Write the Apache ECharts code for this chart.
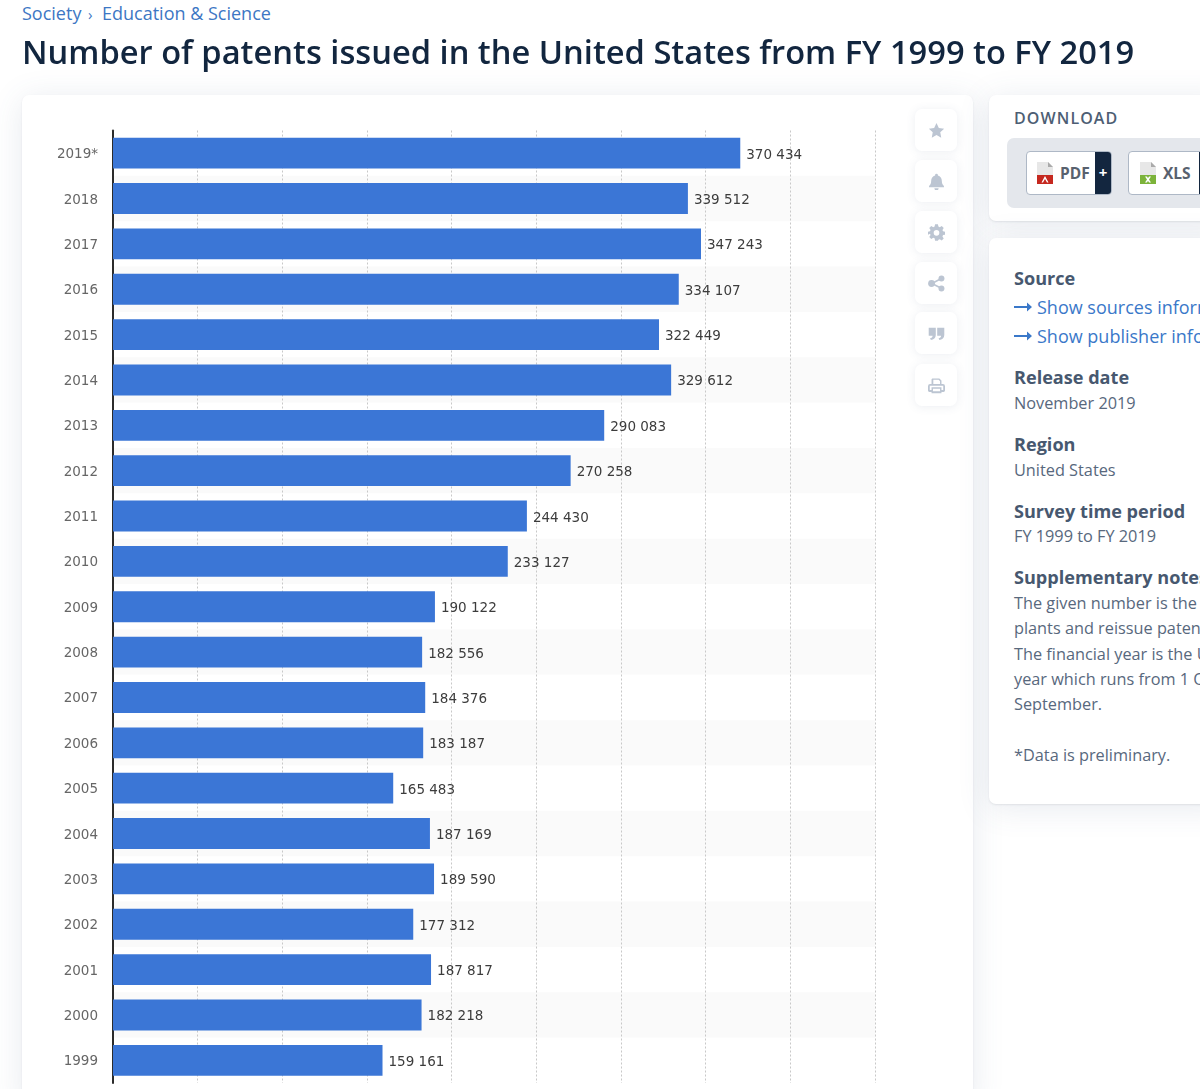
<!DOCTYPE html>
<html><head><meta charset="utf-8">
<script src="https://cdn.jsdelivr.net/npm/echarts@6/dist/echarts.min.js"></script>
<style>
html,body{margin:0;padding:0;width:1200px;height:1089px;overflow:hidden;font-family:"Open Sans",sans-serif;background:#fff;position:relative}
.abs{position:absolute;white-space:nowrap}
.card{position:absolute;background:#fff;border-radius:7px;box-shadow:0 1px 2px rgba(60,70,90,.10),0 4px 32px rgba(70,90,130,.13)}
.btn{position:absolute;left:915px;width:42px;height:42px;background:#fff;border-radius:7px;box-shadow:0 1px 10px rgba(70,90,130,.10);display:flex;align-items:center;justify-content:center}
.btn svg{width:17px;height:17px;fill:#bcc5d2}
.h{font-weight:700;font-size:18.1px;color:#47586f;left:1014px}
.t{font-size:16.3px;color:#58687d;left:1014px}
.l{font-size:18px;color:#3a78c9;left:1037px}
.crumb{font-size:18px;color:#3d77c4;top:1px}
#c{position:absolute;left:0;top:0;width:1200px;height:1089px}
.dl{position:absolute;top:151px;height:44px;background:#fff;border:1px solid #aeb8c6;border-radius:4px;box-sizing:border-box;overflow:hidden}
.dlt{position:absolute;top:10px;font-weight:700;font-size:15.5px;color:#58616e}
</style></head><body>
<div class="abs crumb" style="left:22px">Society</div>
<div class="abs crumb" style="left:88px;font-size:15px;top:4px">›</div>
<div class="abs crumb" style="left:102px">Education &amp; Science</div>

<div class="card" style="left:22px;top:95px;width:951px;height:1010px"></div>
<div class="card" style="left:989px;top:95px;width:240px;height:126px"></div>
<div class="card" style="left:989px;top:238px;width:240px;height:566px"></div>

<div class="abs" style="left:1014px;top:107px;font-size:16px;letter-spacing:1.1px;font-weight:600;color:#4d5e74">DOWNLOAD</div>
<div style="position:absolute;left:1007px;top:138px;width:220px;height:70px;background:#e4e7ec;border-radius:7px"></div>
<div class="dl" style="left:1026px;width:86px">
 <svg style="position:absolute;left:9px;top:10px" width="18" height="22" viewBox="0 0 18 22"><path d="M1 0h11l5 5v17H1z" fill="#e7e7e7"/><path d="M12 0l5 5h-5z" fill="#aaa"/><rect x="1" y="13" width="16" height="9" fill="#c5281f"/><path d="M9 14l3.500 6.500h-1.500L9 17l-2 3.500H5.500z" fill="#fff"/></svg>
 <div class="dlt" style="left:33px">PDF</div>
 <div style="position:absolute;right:0;top:0;width:16px;height:44px;background:#13263f;color:#fff;font-weight:700;font-size:15px;line-height:40px;text-align:center">+</div>
</div>
<div class="dl" style="left:1128px;width:90px">
 <svg style="position:absolute;left:10px;top:10px" width="18" height="22" viewBox="0 0 18 22"><path d="M1 0h11l5 5v17H1z" fill="#e7e7e7"/><path d="M12 0l5 5h-5z" fill="#aaa"/><rect x="1" y="13" width="16" height="9" fill="#7cb33a"/><path d="M6 14.500h2l1 1.800 1-1.800h2L10 17.500l2 3h-2l-1-1.700-1 1.700H6l2-3z" fill="#fff"/></svg>
 <div class="dlt" style="left:34px">XLS</div>
 <div style="position:absolute;left:70px;top:0;width:20px;height:44px;background:#13263f"></div>
</div>

<div class="abs h" style="top:266px">Source</div>
<svg class="abs" style="left:1014px;top:301px" width="18" height="12" viewBox="0 0 18 12"><path d="M0 5h13V1.500L18 6l-5 4.500V7H0z" fill="#3a78c9"/></svg>
<div class="abs l" style="top:295px">Show sources information</div>
<svg class="abs" style="left:1014px;top:330px" width="18" height="12" viewBox="0 0 18 12"><path d="M0 5h13V1.500L18 6l-5 4.500V7H0z" fill="#3a78c9"/></svg>
<div class="abs l" style="top:324px">Show publisher information</div>
<div class="abs h" style="top:365px">Release date</div>
<div class="abs t" style="top:392px">November 2019</div>
<div class="abs h" style="top:432px">Region</div>
<div class="abs t" style="top:459px">United States</div>
<div class="abs h" style="top:499px">Survey time period</div>
<div class="abs t" style="top:525px">FY 1999 to FY 2019</div>
<div class="abs h" style="top:565px">Supplementary notes</div>
<div class="abs t" style="top:592px">The given number is the sum of utility, design,</div>
<div class="abs t" style="top:617px">plants and reissue patents issued.</div>
<div class="abs t" style="top:643px">The financial year is the U.S. government's fiscal</div>
<div class="abs t" style="top:668px">year which runs from 1 October to 30</div>
<div class="abs t" style="top:693px">September.</div>
<div class="abs t" style="top:744px">*Data is preliminary.</div>

<div class="btn" style="top:109px"><svg viewBox="0 0 24 24"><path d="M12 1.500l3.300 6.900 7.500 1-5.500 5.200 1.400 7.500L12 18.400l-6.700 3.700 1.400-7.500L1.200 9.400l7.500-1z"/></svg></div>
<div class="btn" style="top:160px"><svg viewBox="0 0 24 24"><path d="M12 1a2 2 0 0 1 2 2v.6c3.500 1 5.500 4 5.500 7.400 0 4 1.200 5.500 3 7.500v1.500h-21V18.500c1.800-2 3-3.500 3-7.500 0-3.400 2-6.400 5.500-7.400V3a2 2 0 0 1 2-2zM9 21.500h6a3 3 0 0 1-6 0z"/></svg></div>
<div class="btn" style="top:211px"><svg viewBox="0 0 24 24"><path fill-rule="evenodd" d="M10 1h4l.7 3.200 1.900.8 2.800-1.800 2.800 2.800L20.400 8.800l.8 1.900L24 11.500v4l-2.800.7-.8 1.900 1.800 2.800-2.800 2.800-2.800-1.800-1.900.8L14 24h-4l-.7-3.300-1.900-.8-2.800 1.800-2.800-2.800 1.800-2.800-.8-1.900L0 15.500v-4l2.800-.8.800-1.900L1.800 6 4.600 3.200 7.400 5l1.900-.8zM12 9a4 4 0 1 0 0 8 4 4 0 0 0 0-8z" transform="translate(0 -.5)"/></svg></div>
<div class="btn" style="top:262px"><svg viewBox="0 0 24 24"><circle cx="19" cy="5" r="4.200"/><circle cx="19" cy="19" r="4.200"/><circle cx="5" cy="12" r="4.800"/><path d="M5 11l14-7.500 1 2L6 13zM6 11l14 7-1 2-14-7z"/></svg></div>
<div class="btn" style="top:312px"><svg viewBox="0 0 24 24"><path d="M1 4h10v10c0 4-3 6.500-7 7l-1-2.500c2-.5 3.500-1.500 3.500-3.500H1zM13 4h10v10c0 4-3 6.500-7 7l-1-2.500c2-.5 3.500-1.500 3.500-3.500H13z"/></svg></div>
<div class="btn" style="top:364px"><svg viewBox="0 0 24 24"><path fill-rule="evenodd" d="M6 2h10l3 3v5h2a3 3 0 0 1 3 3v6a2 2 0 0 1-2 2h-3v2H5v-2H2a2 2 0 0 1-2-2v-6a3 3 0 0 1 3-3h2V3zM7.500 4v6h9.500V6l-2-2zM7 16.500V20h10v-3.500zM2.500 12.500v6H5v-4h14v4h2.500v-6z"/></svg></div>

<div id="c"></div>
<script>
const chartTitle = "Number of patents issued in the United States from FY 1999 to FY 2019";
const years = ["2019*","2018","2017","2016","2015","2014","2013","2012","2011","2010","2009","2008","2007","2006","2005","2004","2003","2002","2001","2000","1999"];
const patents = [370434,339512,347243,334107,322449,329612,290083,270258,244430,233127,190122,182556,184376,183187,165483,187169,189590,177312,187817,182218,159161];

const chart = echarts.init(document.getElementById('c'), null, {renderer:'canvas'});
const spaced = v => String(v).replace(/\B(?=(\d{3})+$)/g,' ');
chart.setOption({
  animation:false,
  title:{text:chartTitle,left:22,top:38,padding:0,textStyle:{fontFamily:'Open Sans',fontSize:32.65,fontWeight:600,color:'#12263f'}},
  grid:{left:113,right:325,top:130.5,bottom:6,containLabel:false},
  xAxis:{type:'value',min:0,max:450000,interval:50000,
    axisLabel:{show:false},axisTick:{show:false},axisLine:{show:false},
    splitLine:{show:true,lineStyle:{color:'#c8c8c8',type:[2,2],width:1}}},
  yAxis:{type:'category',inverse:true,data:years,
    axisTick:{show:false},
    axisLine:{show:true,lineStyle:{color:'#2b2b2b',width:2}},
    axisLabel:{fontFamily:'DejaVu Sans',fontSize:13.5,color:'#666',margin:15,verticalAlign:'top',lineHeight:3},
    splitArea:{show:true,areaStyle:{color:['#ffffff','#fafafa']}}},
  series:[{type:'bar',data:patents,barWidth:'68%',itemStyle:{color:'#3b76d6'},
    z:3,
    label:{show:true,position:'right',distance:6,offset:[0,2],fontFamily:'DejaVu Sans',fontSize:13.5,color:'#3c3c3c',
      formatter:p=>spaced(p.value)}}]
});
</script>
</body></html>
